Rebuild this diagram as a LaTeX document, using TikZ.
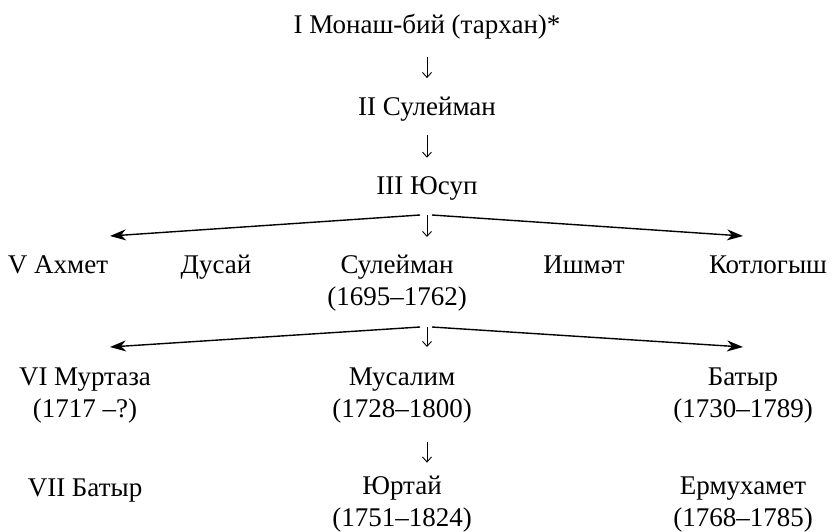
\documentclass[tikz,border=0pt]{standalone}
\usepackage{fontspec}
\setmainfont{Liberation Serif}
\usetikzlibrary{arrows.meta}

\begin{document}
\begin{tikzpicture}[x=0.5pt, y=-0.5pt, main/.style = {anchor=base, align=center, inner sep=0pt, font=\fontsize{13.5}{15.75}\selectfont}, down/.style = {-{Straight Barb[length=2.5pt, width=4.5pt]}, line width=0.45pt}, long/.style = {-{Stealth[length=8pt, width=5.5pt, inset=2.5pt]}, line width=0.7pt}]
      \useasboundingbox (0,0) rectangle (834,531);
      \node[main] (1) at (427,33) {I Монаш-бий (тархан)*};
      \node[main] (2) at (427,115) {II Сулейман};
      \node[main] (3) at (427,194) {III Юсуп};
      \node[main] (4) at (58,273) {V Ахмет};
      \node[main] (5) at (216,273) {Дусай};
      \node[main] (6) at (397,305) {Сулейман\\(1695–1762)};
      \node[main] (7) at (584,273) {Ишмәт};
      \node[main] (8) at (768,273) {Котлогыш};
      \node[main] (9) at (85,417) {VI Муртаза\\(1717 –?)};
      \node[main] (10) at (402,417) {Мусалим\\(1728–1800)};
      \node[main] (11) at (743,417) {Батыр\\(1730–1789)};
      \node[main] (12) at (85,496) {VII Батыр};
      \node[main] (13) at (402,526) {Юртай\\(1751–1824)};
      \node[main] (14) at (743,526) {Ермухамет\\(1768–1785)};
      \coordinate (f1) at (427,215);
      \coordinate (f2) at (427,327);
      \coordinate (a1) at (110,236);
      \coordinate (b1) at (743,236);
      \coordinate (a2) at (110,347);
      \coordinate (b2) at (743,347);
      \draw[down, shorten <=9pt, shorten >=9pt] (1) -- (2);
      \draw[down, shorten <=7pt, shorten >=9pt] (2) -- (3);
      \draw[down] (f1) -- ++(0,22);
      \draw[down] (f2) -- ++(0,20);
      \draw[down, shorten <=9.5pt, shorten >=6.5pt] (10.south -| f2) -- (13.north -| f2);
      \draw[long] ([xshift=-3.5pt]f1) -- (a1);
      \draw[long] ([xshift=2.5pt]f1) -- (b1);
      \draw[long] ([xshift=-3.5pt]f2) -- (a2);
      \draw[long] ([xshift=2.5pt]f2) -- (b2);
    \end{tikzpicture}
\end{document}
